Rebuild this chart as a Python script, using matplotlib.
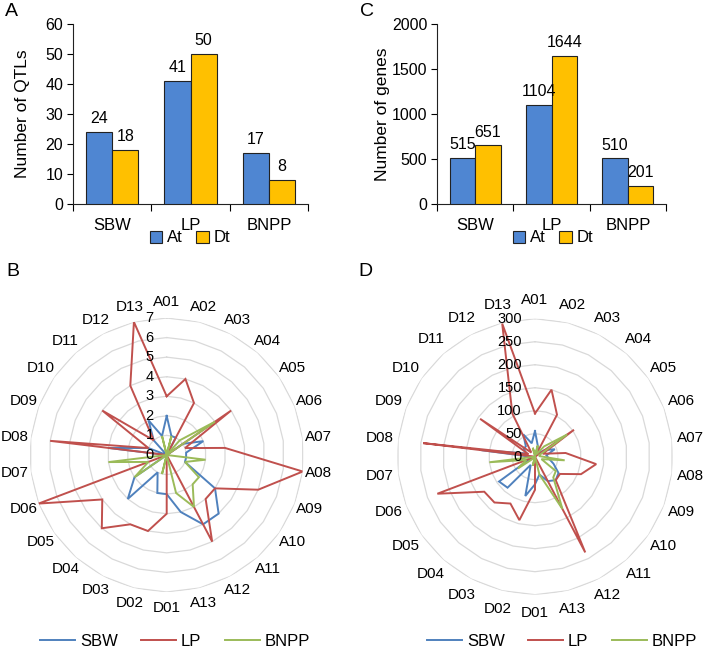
import numpy as np
import matplotlib
matplotlib.use('Agg')
import matplotlib.pyplot as plt
from matplotlib.lines import Line2D
from matplotlib.patches import Patch
from matplotlib.transforms import offset_copy

plt.rcParams['font.family'] = ['Liberation Sans', 'DejaVu Sans']

# ---------------- data ----------------
traits = ['SBW', 'LP', 'BNPP']
qtl_at = [24, 41, 17]
qtl_dt = [18, 50, 8]
gene_at = [515, 1104, 510]
gene_dt = [651, 1644, 201]

chrom = ['A01', 'A02', 'A03', 'A04', 'A05', 'A06', 'A07', 'A08', 'A09', 'A10', 'A11', 'A12', 'A13',
         'D01', 'D02', 'D03', 'D04', 'D05', 'D06', 'D07', 'D08', 'D09', 'D10', 'D11', 'D12', 'D13']

qtl_sbw = [2, 1, 1, 0, 1, 2, 1, 1, 1, 3, 4, 4, 3,
           2, 2, 1, 3, 2, 0, 0, 3, 1, 0, 1, 2, 1]
qtl_lp = [3, 4, 3, 0, 4, 1, 3, 7, 5, 3, 3, 5, 0,
          3, 4, 4, 5, 4, 7, 0, 6, 1, 4, 1, 4, 7]
qtl_bnpp = [0, 1, 0, 1, 3, 0, 0, 2, 1, 2, 2, 3, 2,
            0, 1, 0, 0, 2, 1, 3, 0, 0, 0, 0, 0, 1]

gene_sbw = [56, 25, 15, 10, 25, 46, 25, 30, 43, 62, 68, 60, 40,
            60, 88, 20, 90, 95, 10, 5, 117, 20, 30, 30, 55, 30]
gene_lp = [94, 150, 103, 0, 103, 18, 67, 134, 107, 66, 68, 235, 0,
           72, 142, 115, 133, 134, 227, 0, 245, 15, 145, 12, 106, 298]
gene_bnpp = [5, 25, 5, 30, 85, 10, 10, 65, 15, 55, 60, 128, 40,
             0, 20, 0, 5, 45, 20, 100, 0, 0, 0, 0, 0, 20]

# ---------------- styling ----------------
W, H = 709, 659
fig = plt.figure(figsize=(W / 100, H / 100), dpi=100)

BAR_BLUE = '#4F86D2'
BAR_GOLD = '#FFC000'
SBW_C = '#4F81BD'
LP_C = '#C0504D'
BNPP_C = '#9BBB59'


def px_axes(left, top, right, bottom, **kw):
    return fig.add_axes([left / W, 1 - bottom / H, (right - left) / W, (bottom - top) / H], **kw)


def bar_panel(ax, at, dt, ymax, ystep, ylabel, lpad):
    x = np.arange(len(traits))
    w = 1 / 3
    b1 = ax.bar(x - w / 2, at, w, color=BAR_BLUE, edgecolor='#222222', linewidth=0.8, zorder=3)
    b2 = ax.bar(x + w / 2, dt, w, color=BAR_GOLD, edgecolor='#222222', linewidth=0.8, zorder=3)
    for rects, vals in ((b1, at), (b2, dt)):
        for r, v in zip(rects, vals):
            ax.annotate(str(v), (r.get_x() + r.get_width() / 2, v), xytext=(0, 4),
                        textcoords='offset points', ha='center', va='bottom', fontsize=11.5)
    ax.set_xlim(-0.5, len(traits) - 0.5)
    ax.set_ylim(0, ymax)
    ax.set_yticks(np.arange(0, ymax + 1, ystep))
    ax.tick_params(axis='y', labelsize=11.5, length=4, width=0.8, pad=3)
    ax.set_xticks(np.arange(-0.5, len(traits)))
    ax.set_xticklabels([])
    ax.set_xticks(x, minor=True)
    ax.set_xticklabels(traits, minor=True, fontsize=12)
    ax.tick_params(axis='x', which='minor', length=0, pad=10)
    ax.tick_params(axis='x', which='major', length=5, width=0.8, direction='out')
    for s in ('top', 'right'):
        ax.spines[s].set_visible(False)
    for s in ('left', 'bottom'):
        ax.spines[s].set_linewidth(0.8)
        ax.spines[s].set_color('#222222')
    ax.set_ylabel(ylabel, fontsize=12.5, labelpad=lpad)


axA = px_axes(73, 24, 308, 204)
bar_panel(axA, qtl_at, qtl_dt, 60, 10, 'Number of QTLs', 11)
axC = px_axes(437, 24, 666, 204)
bar_panel(axC, gene_at, gene_dt, 2000, 500, 'Number of genes', 1.5)

bar_handles = [Patch(facecolor=BAR_BLUE, edgecolor='#222222', linewidth=0.8, label='At'),
               Patch(facecolor=BAR_GOLD, edgecolor='#222222', linewidth=0.8, label='Dt')]
for cx in (190, 553):
    fig.legend(handles=bar_handles, loc='center', bbox_to_anchor=(cx / W, 1 - 238 / H), ncol=2,
               frameon=False, fontsize=12, handlelength=0.75, handleheight=0.75,
               handletextpad=0.3, columnspacing=0.8)


def radar(cx, cy, R, series, rmax, rstep, label_r):
    ax = px_axes(cx - R, cy - R, cx + R, cy + R, projection='polar')
    ax.patch.set_alpha(0)
    n = len(chrom)
    theta = np.arange(n) * 2 * np.pi / n
    ax.set_theta_zero_location('N')
    ax.set_theta_direction(-1)
    ax.set_ylim(0, rmax)
    ax.grid(False)
    ax.spines['polar'].set_visible(False)
    ax.set_xticks([])
    ax.set_yticks([])
    tc = np.append(theta, theta[0])
    for lvl in np.arange(rstep, rmax + 1e-9, rstep):
        ax.plot(tc, np.full(n + 1, lvl), color='#D9D9D9', lw=0.9, zorder=1)
    for vals, c in series:
        v = np.append(vals, vals[0])
        ax.plot(tc, v, color=c, lw=1.4, zorder=3, solid_joinstyle='miter')
    tr = offset_copy(ax.transData, fig=fig, x=-13, y=0, units='dots')
    for lvl in np.arange(0, rmax + 1e-9, rstep):
        ax.text(0, lvl, f'{int(lvl)}', transform=tr, ha='right', va='center', fontsize=10.5, zorder=5)
    for t, name in zip(theta, chrom):
        ax.text(t, rmax * label_r, name, ha='center', va='center', fontsize=11, clip_on=False)
    return ax


radar(166.7, 455, 137, [(qtl_sbw, SBW_C), (qtl_lp, LP_C), (qtl_bnpp, BNPP_C)], 7, 1, 1.115)
radar(535, 456.7, 138, [(gene_sbw, SBW_C), (gene_lp, LP_C), (gene_bnpp, BNPP_C)], 300, 50, 1.135)

line_handles = [Line2D([], [], color=SBW_C, lw=1.4, label='SBW'),
                Line2D([], [], color=LP_C, lw=1.4, label='LP'),
                Line2D([], [], color=BNPP_C, lw=1.4, label='BNPP')]
for cx in (175, 562):
    fig.legend(handles=line_handles, loc='center', bbox_to_anchor=(cx / W, 1 - 641 / H), ncol=3,
               frameon=False, fontsize=12, handlelength=2.1, handletextpad=0.3, columnspacing=1.4)

for letter, x, y in (('A', 5, 12), ('C', 360, 12), ('B', 6, 271), ('D', 358, 271)):
    fig.text(x / W, 1 - y / H, letter, fontsize=14, ha='left', va='center')

fig.savefig('out.png', dpi=100)
